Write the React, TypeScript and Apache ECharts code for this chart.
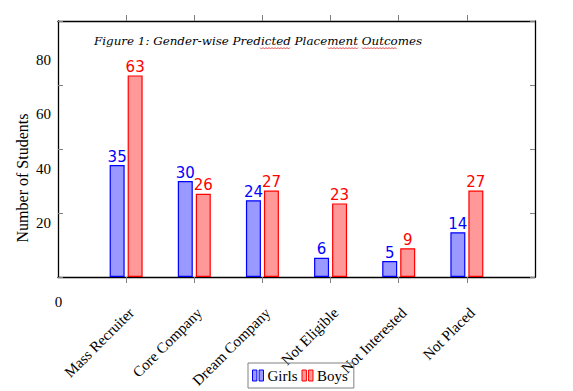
import React, { useEffect, useRef } from "react";
import * as echarts from "echarts";

const categories = ["Mass Recruiter", "Core Company", "Dream Company", "Not Eligible", "Not Interested", "Not Placed"];
const girls = [35, 30, 24, 6, 5, 14];
const boys = [63, 26, 27, 23, 9, 27];
const yTicks = [0, 20, 40, 60, 80];

const SERIF = "'Liberation Serif', 'Times New Roman', serif";

function zigzag(x0: number, x1: number, y: number) {
  const pts: number[][] = [];
  let up = true;
  for (let x = x0; x <= x1; x += 1.5) {
    pts.push([x, up ? y : y + 1.5]);
    up = !up;
  }
  return pts;
}

export default function App() {
  const ref = useRef<HTMLDivElement>(null);
  useEffect(() => {
    if (!ref.current) return;
    const chart = echarts.init(ref.current, null, { renderer: "svg" });
    const cats = ["", ...categories, ""];
    const pad = (a: number[]) => [null, ...a, null];
    const tickFilter = (i: number) => i >= 1 && i <= categories.length;
    const squiggles = [
      [260, 290],
      [328, 359],
      [362, 397],
    ].map(([a, b]) => ({
      type: "polyline",
      shape: { points: zigzag(a, b, 47.5) },
      style: { stroke: "#e02020", lineWidth: 0.8, fill: null },
      silent: true,
    }));
    const border = { show: true, onZero: false, lineStyle: { color: "#000", width: 1.3 } };
    chart.setOption({
      animation: false,
      backgroundColor: "#ffffff",
      grid: { left: 58, right: 38, top: 21, bottom: 114, containLabel: false },
      legend: {
        left: 248,
        top: 363,
        orient: "horizontal",
        borderColor: "#808080",
        borderWidth: 1,
        padding: [5, 6, 5, 4],
        itemWidth: 11,
        itemHeight: 13,
        itemGap: 4,
        textStyle: { fontFamily: SERIF, fontSize: 15, color: "#000", padding: [0, 0, 0, -1] },
        data: [
          { name: "Girls", icon: "path://M0,0 h4 v10 h-4 z M6,0 h4 v10 h-4 z", itemStyle: { color: "#9999ff", borderColor: "#0000ff", borderWidth: 1 } },
          { name: "Boys", icon: "path://M0,0 h4 v10 h-4 z M6,0 h4 v10 h-4 z", itemStyle: { color: "#ff9999", borderColor: "#ff0000", borderWidth: 1 } },
        ],
      },
      xAxis: [
        {
          type: "category",
          position: "bottom",
          data: cats,
          boundaryGap: false,
          axisLine: border,
          axisTick: { show: true, interval: tickFilter, length: 6, lineStyle: { color: "#808080" } },
          axisLabel: {
            interval: 0,
            rotate: 45,
            margin: 28,
            verticalAlign: "top",
            fontFamily: SERIF,
            fontSize: 15,
            color: "#000",
          },
          splitLine: { show: false },
        },
        {
          type: "category",
          position: "top",
          data: cats,
          boundaryGap: false,
          axisLine: border,
          axisTick: { show: true, interval: tickFilter, length: 6, lineStyle: { color: "#808080" } },
          axisLabel: { show: false },
          splitLine: { show: false },
        },
      ],
      yAxis: [
        {
          type: "value",
          position: "left",
          min: 0,
          max: 80,
          interval: 20,
          axisLine: border,
          axisTick: { show: true, inside: true, length: 5, lineStyle: { color: "#808080" } },
          axisLabel: { show: false },
          splitLine: { show: false },
        },
        {
          type: "value",
          position: "right",
          min: 0,
          max: 80,
          interval: 20,
          axisLine: border,
          axisTick: { show: true, inside: true, length: 5, lineStyle: { color: "#808080" } },
          axisLabel: { show: false },
          splitLine: { show: false },
        },
        {
          type: "value",
          position: "left",
          min: 0,
          max: 94.4,
          interval: 20,
          axisLine: { show: false },
          axisTick: { show: false },
          axisLabel: {
            show: true,
            showMaxLabel: false,
            margin: 7,
            fontFamily: SERIF,
            fontSize: 15,
            color: "#000",
            formatter: (v: number) => (yTicks.includes(v) && v !== 0 ? String(v) : ""),
          },
          splitLine: { show: false },
        },
      ],
      series: [
        {
          name: "Girls",
          type: "bar",
          data: pad(girls),
          barWidth: 15,
          barGap: "20%",
          itemStyle: { color: "#9999ff", borderColor: "#0000ff", borderWidth: 1.2 },
          label: { show: true, position: "top", distance: 1, color: "#0000ff", fontFamily: "'DejaVu Sans', sans-serif", fontSize: 15 },
        },
        {
          name: "Boys",
          type: "bar",
          data: pad(boys),
          barWidth: 15,
          itemStyle: { color: "#ff9999", borderColor: "#ff0000", borderWidth: 1.2 },
          label: { show: true, position: "top", distance: 1, color: "#ff0000", fontFamily: "'DejaVu Sans', sans-serif", fontSize: 15 },
        },
      ],
      graphic: [
        {
          type: "text",
          left: 94,
          top: 35,
          style: {
            text: "Figure 1: Gender-wise Predicted Placement Outcomes",
            font: "italic 11.9px 'DejaVu Serif', serif",
            fill: "#000",
          },
        },
        ...squiggles,
        {
          type: "text",
          x: 22,
          y: 178,
          rotation: Math.PI / 2,
          style: {
            text: "Number of Students",
            font: "16px " + SERIF,
            fill: "#000",
            align: "center",
            verticalAlign: "middle",
          },
        },
        {
          type: "text",
          x: 58.5,
          y: 302,
          style: { text: "0", font: "15px " + SERIF, fill: "#000", align: "center", verticalAlign: "middle" },
        },
      ],
    });
    return () => chart.dispose();
  }, []);
  return <div ref={ref} style={{ position: "fixed", left: 0, top: 0, width: 573, height: 391 }} />;
}
